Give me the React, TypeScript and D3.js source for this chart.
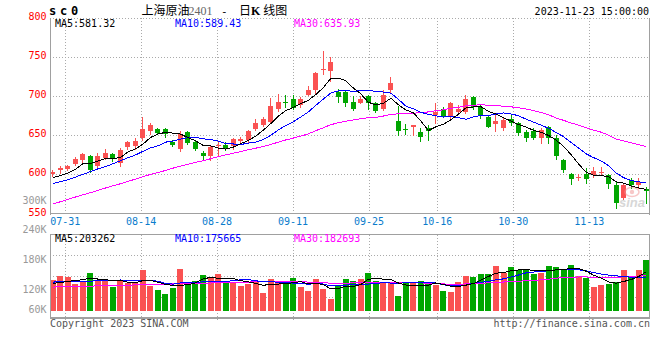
import React from "react";
import * as d3 from "d3";

// ---------- DATA ----------
const dates = [
  "07-27","07-28","07-31","08-01","08-02","08-03","08-04","08-07","08-08","08-09",
  "08-10","08-11","08-14","08-15","08-16","08-17","08-18","08-21","08-22","08-23",
  "08-24","08-25","08-28","08-29","08-30","08-31","09-01","09-04","09-05","09-06",
  "09-07","09-08","09-11","09-12","09-13","09-14","09-15","09-18","09-19","09-20",
  "09-21","09-22","09-25","09-26","09-27","09-28","10-09","10-10","10-11","10-12",
  "10-13","10-16","10-17","10-18","10-19","10-20","10-23","10-24","10-25","10-26",
  "10-27","10-30","10-31","11-01","11-02","11-03","11-06","11-07","11-08","11-09",
  "11-10","11-13","11-14","11-15","11-16","11-17","11-20","11-21","11-22","11-23",
];
const dateTicks = ["07-31","08-14","08-28","09-11","09-25","10-16","10-30","11-13"];

const opens = [
  600,605,607,613,618,624,611,621,626,614,
  635,636,646,656,658,658,641,632,654,641,
  627,623,636,637,636,643,644,658,663,667,
  684,692,697,689,701,708,734,732,705,705,
  693,691,700,691,683,708,668,658,660,654,
  659,676,683,673,680,680,699,686,673,665,
  659,671,666,654,656,647,661,647,618,600,
  596,600,599,602,599,586,570,593,587,581,
];
const highs = [
  606,611,612,622,628,625,627,632,627,634,
  643,646,673,666,659,659,644,656,656,644,
  630,636,642,642,646,648,657,671,673,698,
  703,701,702,699,713,731,758,750,709,708,
  700,700,701,692,708,725,688,665,663,659,
  663,691,686,693,689,702,700,690,676,678,
  674,676,667,657,659,659,662,650,620,602,
  601,608,609,609,601,590,588,596,595,584,
];
const lows = [
  598,602,606,612,615,603,610,620,617,611,
  633,633,644,652,652,648,636,630,639,631,
  618,619,625,631,633,641,642,657,662,666,
  681,686,684,686,701,703,729,720,693,688,
  682,691,684,680,682,705,651,652,650,643,
  644,666,673,672,677,679,684,672,660,656,
  657,663,651,643,645,640,640,620,603,588,
  593,589,597,599,582,557,568,582,582,563,
];
const closes = [
  603,608,611,620,626,605,623,628,620,631,
  641,643,658,663,653,652,638,652,640,633,
  623,635,638,633,645,645,655,666,671,687,
  693,691,685,696,708,730,735,744,699,691,
  684,697,691,681,701,717,656,657,663,648,
  656,680,674,691,684,696,686,676,661,668,
  670,666,653,646,647,657,646,623,606,594,
  597,594,604,603,588,563,586,586,590,579,
];
const ma5 = [
  596,598.5,601.5,606.5,613.6,614.0,617.0,620.4,620.4,621.4,
  628.6,632.6,638.6,647.2,651.6,653.8,652.8,651.6,647.0,643.0,
  637.2,636.6,633.8,632.4,634.8,639.2,643.2,648.8,656.4,664.8,
  674.4,681.6,685.4,690.4,694.6,702.0,710.8,722.6,723.2,719.8,
  710.6,703.0,692.4,688.8,690.8,697.4,689.2,682.4,678.8,668.2,
  656.0,660.8,664.2,669.8,677.0,685.0,686.2,686.6,680.6,677.4,
  672.2,668.2,663.6,660.6,656.4,653.8,649.8,643.8,635.8,625.2,
  613.2,602.8,599.0,598.4,597.2,590.4,588.8,585.2,582.6,580.8,
];
const ma10 = [
  588.5,590.5,593,596.5,600,603.5,607,610,613.5,617.5,
  621.3,624.8,629.5,633.8,636.5,641.2,642.7,645.1,647.1,647.3,
  645.5,644.7,642.7,639.7,638.9,638.2,639.9,641.3,644.4,649.8,
  656.8,662.4,667.1,673.4,679.7,688.2,696.2,704.0,706.8,707.2,
  706.3,706.9,707.5,706.0,705.3,704.0,696.1,687.4,683.8,679.5,
  676.7,675.0,673.3,674.3,672.6,670.5,673.5,675.4,675.2,677.2,
  678.6,677.2,675.1,670.6,666.9,663.0,659.0,653.7,648.2,640.8,
  633.5,626.3,621.4,617.1,611.2,601.8,595.8,592.1,590.5,589.0,
];
const ma30 = [
  562,565,568,571,574,576.5,579.5,582.5,585.5,588,
  591,594,597,600,602.5,605,608,610.5,613,615.5,
  617.5,620,622.5,625,627,629,631.5,633.5,635.5,638.2,
  641.2,644.0,646.4,649.0,651.7,655.9,659.6,663.5,666.1,668.1,
  669.5,671.3,672.4,673.0,674.6,676.8,677.4,677.6,678.3,678.8,
  679.9,681.4,682.6,684.6,685.9,687.6,688.6,688.9,688.6,688.0,
  687.2,686.4,685.3,683.6,681.6,679.2,676.2,672.2,669.1,665.8,
  662.9,659.5,656.6,654.0,650.2,645.1,642.8,640.4,638.0,635.7,
];
// volume, thousands of lots
const volumeK = [
  161,181,176,140,154,197,161,157,124,157,
  144,150,212,131,109,88,121,218,144,155,
  188,169,193,144,149,131,138,155,95,166,
  144,152,173,126,105,166,116,61,135,166,
  155,166,198,157,150,144,78,144,144,155,
  150,135,104,98,150,183,176,193,193,235,
  197,228,211,211,193,197,235,228,211,240,
  183,169,124,135,141,152,212,176,212,264,
];
const volMa5 = [
  143,148,153,158,162.4,169.6,165.6,161.8,158.6,159.2,
  148.6,146.4,157.4,158.8,149.2,138.0,132.2,133.4,136.0,145.2,
  165.2,174.8,169.8,169.8,168.6,157.2,151.0,143.4,133.6,137.0,
  139.6,142.4,146.0,152.2,140.0,144.4,137.2,114.8,116.6,128.8,
  126.6,136.6,164.0,168.4,165.2,163.0,145.4,134.6,132.0,133.0,
  134.2,145.6,137.6,128.4,127.4,134.0,142.2,160.0,179.0,196.0,
  198.8,209.2,212.8,216.4,208.0,208.0,209.4,212.8,212.8,222.2,
  219.4,206.2,185.4,170.2,150.4,144.2,152.8,163.2,178.6,203.3,
];
const volMa10 = [
  150,151,152,153,154,155,156,157,158,160.8,
  159.1,156.0,159.6,158.7,154.2,143.3,139.3,145.4,147.4,147.2,
  151.6,153.5,151.6,152.9,156.9,161.2,162.9,156.6,151.7,152.8,
  148.4,146.7,144.7,142.9,138.5,142.0,139.8,130.4,134.4,134.4,
  135.5,136.9,139.4,142.5,147.0,144.8,141.0,149.3,150.2,149.1,
  148.6,145.5,136.1,130.2,130.2,134.1,143.9,148.8,153.7,161.7,
  166.4,175.7,186.4,197.7,202.0,203.4,209.3,212.8,214.6,215.1,
  213.7,207.8,199.1,191.5,186.3,181.8,179.5,174.3,174.4,175.7,
];
const volMa30 = [
  124,125,126,127,128,129,130,131,132,133,
  134,135,136,137,138,139,140,141,142,143,
  144,145,146,147,148,149,150,151,152,153.6,
  153.0,152.1,152.0,151.5,149.9,148.8,147.3,144.1,144.5,144.8,
  145.2,145.7,145.2,146.1,147.5,149.3,147.9,145.4,145.4,145.4,
  144.2,143.0,140.1,138.5,138.6,140.3,141.6,142.8,146.1,148.4,
  150.2,152.7,154.0,156.8,159.7,160.8,164.7,170.3,172.8,175.3,
  176.2,176.3,173.9,173.1,172.8,173.1,177.6,178.6,180.9,182.7,
];

const priceTicks = [800, 750, 700, 650, 600, 550];
const priceGrid = [750, 700, 650, 600];
const volTickLabels = ["240K", "180K", "120K", "60K"];
const priceLegend = [581.32, 589.43, 635.93];
const volLegend = [203262, 175665, 182693];

const RED = "#fa5252";
const GREEN = "#00a600";
const BORDER = "#a0a0a0";
const GRID = "#aaaaaa";
const MONO = "'DejaVu Sans Mono', 'Liberation Mono', monospace";
const CJK = "'Noto Sans CJK SC', sans-serif";

export default function App() {
  const W = 660, H = 360;
  const L = 50, R = 650;
  const pTop = 18, pBot = 213.5;
  const vTop = 234.5, vBot = 317.5;

  const x = d3.scaleBand<string>().domain(dates).range([49, 650]).padding(0);
  const cx = (i: number) => (x(dates[i]) as number) + x.bandwidth() / 2;
  const gx = d3.scaleLinear().domain([0, dates.length - 1]).range([L, R]);
  const y = d3.scaleLinear().domain([550, 800]).range([pBot, pTop]);
  const yv = d3.scaleLinear().domain([0, 400]).range([311, 233.8]);

  const priceLine = d3.line<number>().x((_, i) => cx(i)).y((d) => y(d));
  const volLine = d3.line<number>().x((_, i) => cx(i)).y((d) => yv(d));

  const tickIdx = dateTicks.map((t) => dates.indexOf(t));
  const volGrid = [1, 2, 3].map((k) => Math.round(vTop + (k * (vBot - vTop)) / 4) + 0.5);

  const bodyW = 5;
  const barW = 6;

  return (
    <svg
      width={W}
      height={H}
      viewBox={`0 0 ${W} ${H}`}
      style={{ position: "absolute", left: 0, top: 0, background: "#fff", display: "block" }}
    >
      <rect x={0} y={0} width={W} height={H} fill="#fff" />

      {/* Header */}
      <text x={49} y={15} fontFamily={MONO} fontSize={12} fontWeight="bold" letterSpacing={3.8} fill="#000">
        sc0
      </text>
      <text x={141.5} y={14.5} fontFamily={CJK} fontSize={12} fill="#000">
        上海原油
      </text>
      <text x={188.5} y={14.5} fontFamily="'Liberation Serif', serif" fontSize={12} fill="#666">
        2401
      </text>
      <text x={221} y={14.5} fontFamily={MONO} fontSize={11} fill="#000">
        -
      </text>
      <text x={239} y={14.5} fontFamily={CJK} fontSize={12} fill="#000">
        日
        <tspan fontFamily="'Liberation Serif', serif" fontWeight="bold">K</tspan>
        <tspan dx={3}>线图</tspan>
      </text>
      <text x={649} y={15} textAnchor="end" fontFamily={MONO} fontSize={10} fill="#000">
        2023-11-23 15:00:00
      </text>

      {/* ===== Price panel grid ===== */}
      <g shapeRendering="crispEdges">
        {priceGrid.map((p) => (
          <line key={p} x1={L} x2={R} y1={Math.round(y(p)) + 0.5} y2={Math.round(y(p)) + 0.5}
            stroke={GRID} strokeDasharray="1,2" />
        ))}
        <line x1={L} x2={R} y1={pTop + 0.5} y2={pTop + 0.5} stroke={GRID} strokeDasharray="1,2" />
        {tickIdx.map((ti, k) => (
          <line key={"pv" + k} x1={Math.round(gx(ti)) + 0.5} x2={Math.round(gx(ti)) + 0.5}
            y1={pTop} y2={pBot} stroke={GRID} strokeDasharray="1,2" />
        ))}
        {/* volume panel grid */}
        {volGrid.map((gy, k) => (
          <line key={"vg" + k} x1={L} x2={R} y1={gy} y2={gy} stroke={GRID} strokeDasharray="1,2" />
        ))}
        {tickIdx.map((ti, k) => (
          <line key={"vv" + k} x1={Math.round(gx(ti)) + 0.5} x2={Math.round(gx(ti)) + 0.5}
            y1={vTop} y2={vBot + 4} stroke={GRID} strokeDasharray="1,2" />
        ))}
      </g>

      {/* Legend price */}
      <text x={55} y={26.5} fontFamily={MONO} fontSize={10} fill="#000">{`MA5:${priceLegend[0].toFixed(2)}`}</text>
      <text x={175} y={26.5} fontFamily={MONO} fontSize={10} fill="#0000ff">{`MA10:${priceLegend[1].toFixed(2)}`}</text>
      <text x={294} y={26.5} fontFamily={MONO} fontSize={10} fill="#ff00ff">{`MA30:${priceLegend[2].toFixed(2)}`}</text>

      {/* Candles */}
      <g shapeRendering="crispEdges">
        {dates.map((d, i) => {
          const o = opens[i], c = closes[i];
          const color = c >= o ? RED : GREEN;
          const left = Math.round(cx(i) - bodyW / 2);
          const mid = left + 2.5;
          const yt = Math.round(y(Math.max(o, c)));
          const yb = Math.round(y(Math.min(o, c)));
          return (
            <g key={d}>
              <line x1={mid} x2={mid} y1={Math.round(y(highs[i]))} y2={Math.round(y(lows[i])) + 1} stroke={color} />
              <rect x={left} y={yt} width={bodyW} height={Math.max(1, yb - yt)} fill={color} />
            </g>
          );
        })}
      </g>

      {/* Price MA lines */}
      <g fill="none" strokeWidth={1} shapeRendering="crispEdges">
        <path d={priceLine(ma30) || ""} stroke="#ff00ff" />
        <path d={priceLine(ma10) || ""} stroke="#0000ff" />
        <path d={priceLine(ma5) || ""} stroke="#000000" />
      </g>

      {/* sina watermark */}
      <g opacity={0.55}>
        <ellipse cx={632} cy={192} rx={7} ry={4.5} fill="none" stroke="#f29a9a" strokeWidth={1.5} />
        <circle cx={632} cy={192} r={2.2} fill="#f29a9a" />
        <text x={619} y={207} fontFamily="'Liberation Sans', sans-serif" fontStyle="italic" fontWeight="bold"
          fontSize={13} fill="#b8b8b8">sina</text>
      </g>

      {/* Price panel borders */}
      <g shapeRendering="crispEdges" stroke={BORDER} fill="none">
        <line x1={L + 0.5} x2={L + 0.5} y1={pTop} y2={pBot + 1} />
        <line x1={R - 0.5} x2={R - 0.5} y1={pTop} y2={pBot + 1} />
        <line x1={L} x2={R} y1={pBot} y2={pBot} strokeWidth={1.5} />
      </g>

      {/* Price labels */}
      {priceTicks.map((p) => (
        <text key={p} x={46.5} y={y(p) + 2} textAnchor="end" fontFamily={MONO} fontSize={10} fill="#ff0000">
          {p}
        </text>
      ))}
      <text x={46.5} y={204.3} textAnchor="end" fontFamily={MONO} fontSize={10} fill="#999">300K</text>

      {/* Date labels */}
      {tickIdx.map((ti, k) => (
        <text key={"dl" + k} x={gx(ti)} y={225} textAnchor="middle" fontFamily={MONO} fontSize={10} fill="#0a7ccc">
          {dateTicks[k]}
        </text>
      ))}

      {/* ===== Volume panel ===== */}
      <g shapeRendering="crispEdges">
        {dates.map((d, i) => {
          const color = closes[i] >= opens[i] ? RED : GREEN;
          const left = Math.round(cx(i) - barW / 2);
          const top = Math.round(yv(volumeK[i]));
          return <rect key={"v" + d} x={left} y={top} width={barW} height={Math.round(yv(0)) - top} fill={color} />;
        })}
      </g>
      <g fill="none" strokeWidth={1} shapeRendering="crispEdges">
        <path d={volLine(volMa30) || ""} stroke="#ff00ff" />
        <path d={volLine(volMa10) || ""} stroke="#0000ff" />
        <path d={volLine(volMa5) || ""} stroke="#000000" />
      </g>
      <g shapeRendering="crispEdges" stroke={BORDER} fill="none">
        <line x1={L} x2={R} y1={vTop} y2={vTop} strokeWidth={1.5} />
        <line x1={L} x2={R} y1={vBot + 0.5} y2={vBot + 0.5} strokeWidth={1.5} />
        <line x1={L + 0.5} x2={L + 0.5} y1={vTop} y2={vBot + 1} />
        <line x1={R - 0.5} x2={R - 0.5} y1={vTop} y2={vBot + 1} />
      </g>

      <text x={55} y={242} fontFamily={MONO} fontSize={10} fill="#000">{`MA5:${volLegend[0]}`}</text>
      <text x={175} y={242} fontFamily={MONO} fontSize={10} fill="#0000ff">{`MA10:${volLegend[1]}`}</text>
      <text x={294} y={242} fontFamily={MONO} fontSize={10} fill="#ff00ff">{`MA30:${volLegend[2]}`}</text>

      {volTickLabels.map((t, k) => (
        <text key={t} x={46.5} y={Math.min(233.3 + k * 30, 313.3)} textAnchor="end" fontFamily={MONO} fontSize={10} fill="#999">
          {t}
        </text>
      ))}

      {/* Footer */}
      <text x={50} y={327} fontFamily={MONO} fontSize={10} fill="#555">Copyright 2023 SINA.COM</text>
      <text x={650} y={327} textAnchor="end" fontFamily={MONO} fontSize={10} fill="#555">http://finance.sina.com.cn</text>
    </svg>
  );
}
